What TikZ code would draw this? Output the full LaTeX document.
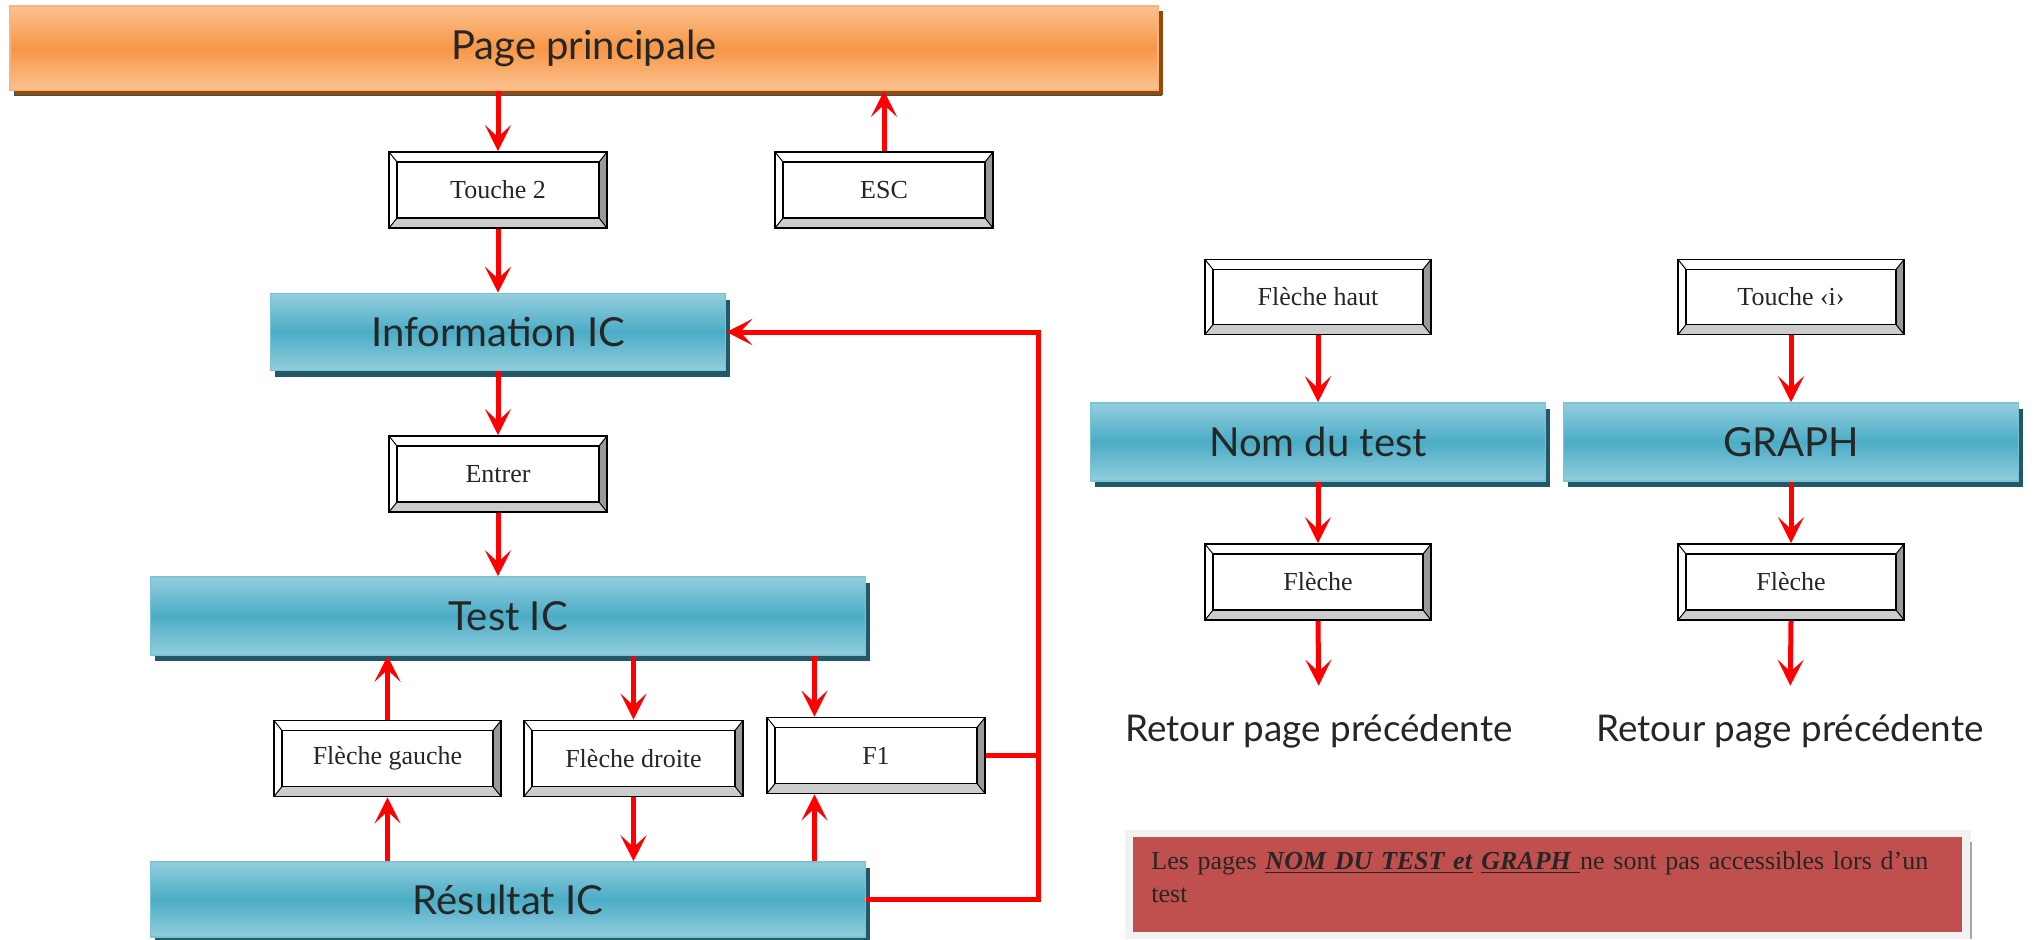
\documentclass[tikz,border=0pt]{standalone}
\usepackage{fontspec}
\setmainfont{Liberation Serif}
\newfontfamily\titlefont{Lato}
\usepackage{tikz}
\usetikzlibrary{arrows.meta,positioning,calc,shadows}
\definecolor{pagemid}{HTML}{F79646}
\definecolor{pagelight}{HTML}{FBC291}
\definecolor{pagerim}{HTML}{F9B37D}
\definecolor{pageshadow}{HTML}{984807}
\definecolor{bluemid}{HTML}{4BACC6}
\definecolor{bluelight}{HTML}{93CEDD}
\definecolor{bluerim}{HTML}{7DC3D6}
\definecolor{blueshadow}{HTML}{215968}
\definecolor{flowred}{HTML}{FF0000}
\definecolor{notered}{HTML}{C0504D}
\definecolor{notegray}{HTML}{F2F2F2}
\definecolor{bevelright}{HTML}{999999}
\definecolor{bevelbottom}{HTML}{CCCCCC}
\definecolor{txtdark}{HTML}{262626}
\newcommand\bvx{4pt}
\newcommand\bvy{5pt}

\tikzset{
  keybox/.style={rectangle, draw=black, line width=0.9pt, fill=white,
    minimum width=109pt, minimum height=38pt, inner sep=0pt, text=txtdark,
    font=\fontsize{13}{15}\selectfont,
    path picture={
      \path (path picture bounding box.south west) coordinate (sw)
            (path picture bounding box.north east) coordinate (ne);
      \fill[bevelright] (ne) -- (sw -| ne) -- ($(sw -| ne)+(-\bvx,\bvy)$) -- ($(ne)+(-\bvx,-\bvy)$) -- cycle;
      \fill[bevelbottom] (sw) -- (sw -| ne) -- ($(sw -| ne)+(-\bvx,\bvy)$) -- ($(sw)+(\bvx,\bvy)$) -- cycle;
      \draw[line width=0.7pt] ($(sw)+(\bvx,\bvy)$) rectangle ($(ne)+(-\bvx,-\bvy)$);
      \draw[line width=0.5pt] (sw) -- ++(\bvx,\bvy) (ne) -- ++(-\bvx,-\bvy)
            (sw -| ne) -- ++(-\bvx,\bvy) (ne -| sw) -- ++(\bvx,-\bvy);
    }},
  titlebox/.style={rectangle, draw=bluerim, line width=0.8pt,
    top color=bluelight, bottom color=bluelight, middle color=bluemid,
    drop shadow={shadow xshift=2pt, shadow yshift=-3pt, fill=blueshadow, opacity=1},
    minimum height=39pt, inner sep=0pt, text=txtdark,
    font=\titlefont\fontsize{20}{24}\selectfont},
  mainbox/.style={titlebox, draw=pagerim,
    top color=pagelight, bottom color=pagelight, middle color=pagemid,
    drop shadow={shadow xshift=2.5pt, shadow yshift=-2.5pt, fill=pageshadow, opacity=1}},
  retour/.style={inner sep=0pt, text=txtdark, font=\titlefont\fontsize{18.4}{22}\selectfont},
  notetext/.style={text width=396pt, inner xsep=9pt, inner ysep=7pt, align=left, text=txtdark,
    font=\fontsize{13}{16.5}\selectfont},
  flow/.style={draw=flowred, line width=2.5pt, -{Stealth[length=13pt,width=13pt,inset=6pt]}},
  flowline/.style={draw=flowred, line width=2.5pt}
}

\begin{document}
\begin{tikzpicture}[x=0.5pt,y=-0.5pt]
\useasboundingbox (0,0) rectangle (2035,939);

% left column
\node[mainbox, minimum width=574pt, minimum height=42pt] (page) at (584,48) {Page principale};
\node[keybox] (touche2) at (498,190) {Touche 2};
\node[keybox] (esc) at (884,190) {ESC};
\node[titlebox, minimum width=227.5pt, minimum height=38.5pt] (info) at (498,332) {Information IC};
\node[keybox] (entrer) at (498,474) {Entrer};
\node[titlebox, minimum width=357.5pt] (test) at (508,616) {Test IC};
\node[keybox, minimum width=113.5pt] (gauche) at (387.5,758.5) {Flèche gauche};
\node[keybox, minimum width=109.5pt] (droite) at (633.5,758.5) {Flèche droite};
\node[keybox] (f1) at (876,755.5) {F1};
\node[titlebox, minimum width=357.5pt, minimum height=37.5pt] (resultat) at (508,899.5) {Résultat IC};

% right columns
\node[keybox, minimum width=113pt, minimum height=37.5pt] (haut) at (1318,297) {Flèche haut};
\node[keybox, minimum width=113pt, minimum height=37.5pt] (touchei) at (1791,297) {Touche ‹i›};
\node[titlebox, minimum width=227.5pt] (nom) at (1318,442) {Nom du test};
\node[titlebox, minimum width=227.5pt] (graph) at (1791,442) {GRAPH};
\node[keybox, minimum width=113pt] (fleche1) at (1318,582) {Flèche};
\node[keybox, minimum width=113pt] (fleche2) at (1791,582) {Flèche};
\node[retour] (retour1) at (1319,731) {Retour page précédente};
\node[retour] (retour2) at (1790,731) {Retour page précédente};

% note
\fill[notegray] (1125,830) rectangle (1971,939);
\draw[gray!70, line width=0.6pt] (1971,842) -- (1971,939);
\fill[notered] (1133,837) rectangle (1962,932);
\node[notetext, anchor=north west] (note) at (1133,837)
  {Les pages \underline{\textbf{\textit{NOM DU TEST et}}} \underline{\textbf{\textit{GRAPH}}\ }ne sont pas accessibles lors d’un\\test};

% arrows
\draw[flow] (page.south -| touche2) -- (touche2.north);
\draw[flow] (esc.north) -- (esc.north |- page.south);
\draw[flow] (touche2.south) -- (info.north -| touche2);
\draw[flow] (info.south -| entrer) -- (entrer.north);
\draw[flow] (entrer.south) -- (test.north -| entrer);
\draw[flow] (gauche.north) -- (test.south -| gauche);
\draw[flow] (resultat.north -| gauche) -- (gauche.south);
\draw[flow] (test.south -| droite) -- (droite.north);
\draw[flow] (droite.south) -- (resultat.north -| droite);
\coordinate (f1in) at ($(f1.north west)!0.22!(f1.north east)$);
\draw[flow] (test.south -| f1in) -- (f1in);
\draw[flow] (resultat.north -| f1in) -- (f1in |- f1.south);
\coordinate (loop) at ($(info.east)+(312,0)$);
\draw[flow] (resultat.east) -| (loop) -- (info.east);
\draw[flowline] (f1.east) -- (f1.east -| loop);
\draw[flow] (haut.south) -- (nom.north);
\draw[flow] (touchei.south) -- (graph.north);
\draw[flow] (nom.south) -- (fleche1.north);
\draw[flow] (graph.south) -- (fleche2.north);
\draw[flow, shorten >=14pt] (fleche1.south) -- (retour1.north);
\draw[flow, shorten >=14pt] (fleche2.south) -- (retour2.north);
\end{tikzpicture}
\end{document}
